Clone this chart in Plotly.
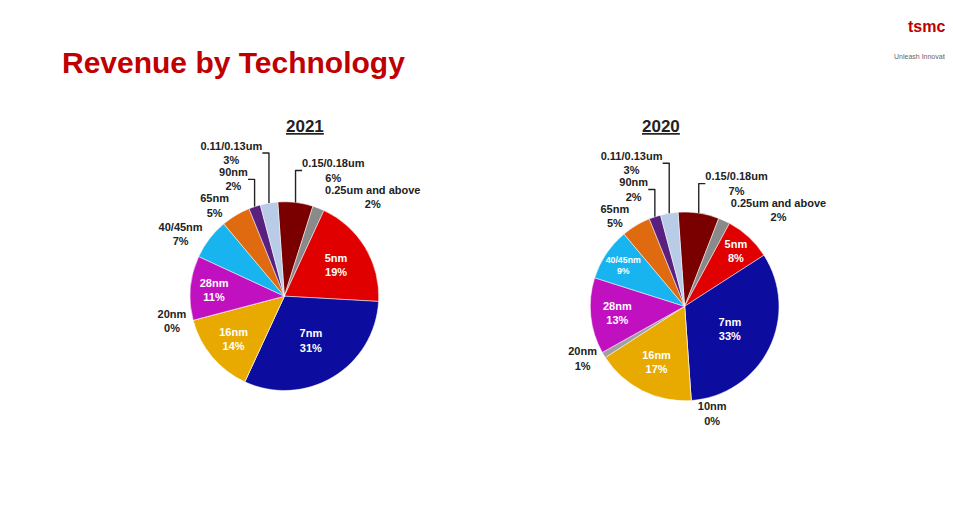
import plotly.graph_objects as go

nodes = ["0.15/0.18um", "0.25um and above", "5nm", "7nm", "10nm", "16nm", "20nm",
         "28nm", "40/45nm", "65nm", "90nm", "0.11/0.13um"]
rev_2021 = [6, 2, 19, 31, 0, 14, 0, 11, 7, 5, 2, 3]
rev_2020 = [7, 2, 8, 33, 0, 17, 1, 13, 9, 5, 2, 3]
colors = ["#7a0000", "#8a8a8a", "#e00000", "#0c0c9e", "#5a5a5a", "#e8aa00", "#a0a0a0",
          "#c010c0", "#18b4f0", "#e06a10", "#5a2080", "#b8cce8"]
inside_nodes = {"5nm", "7nm", "16nm", "28nm", "40/45nm"}

def pie(vals, dom, name, big, hide=()):
    text = ["" if n in hide else f"<b>{n}<br>{v}%</b>" for n, v in zip(nodes, vals)]
    pos = ["inside" if n in big else "outside" for n in nodes]
    return go.Pie(values=vals, labels=nodes, text=text, textinfo="text",
                  textposition=pos, insidetextfont=dict(color="white", size=11, family="Arial"),
                  outsidetextfont=dict(color="#222", size=11, family="Arial"),
                  insidetextorientation="horizontal",
                  marker=dict(colors=colors, line=dict(color="white", width=0.5)),
                  sort=False, direction="clockwise", rotation=-4, domain=dom,
                  showlegend=False, name=name, hoverinfo="label+percent")

fig = go.Figure()
fig.add_trace(pie(rev_2021, dict(x=[0.13, 0.45], y=[0.25, 0.62]), "2021",
                  inside_nodes - {"40/45nm"}, hide=("10nm",)))
fig.add_trace(pie(rev_2020, dict(x=[0.55, 0.87], y=[0.23, 0.60]), "2020", inside_nodes))

ann = [
    dict(x=0.055, y=0.93, text="<b>Revenue by Technology</b>", font=dict(size=30, color="#c00000", family="Arial"), xanchor="left"),
    dict(x=0.29, y=0.79, text="<b><u>2021</u></b>", font=dict(size=17, color="#222", family="Arial")),
    dict(x=0.707, y=0.79, text="<b><u>2020</u></b>", font=dict(size=17, color="#222", family="Arial")),
    dict(x=0.985, y=0.985, text="<b>tsmc</b>", font=dict(size=16, color="#c00000"), xanchor="right"),
    dict(x=0.995, y=0.915, text="Unleash Innovation", font=dict(size=7, color="#666"), xanchor="right"),
]
for a in ann:
    a.update(xref="paper", yref="paper", showarrow=False)
fig.update_layout(width=953, height=510, margin=dict(l=0, r=0, t=0, b=0),
                  paper_bgcolor="white", annotations=ann,
                  font=dict(family="Arial", size=11))
fig.write_html("out.html")
